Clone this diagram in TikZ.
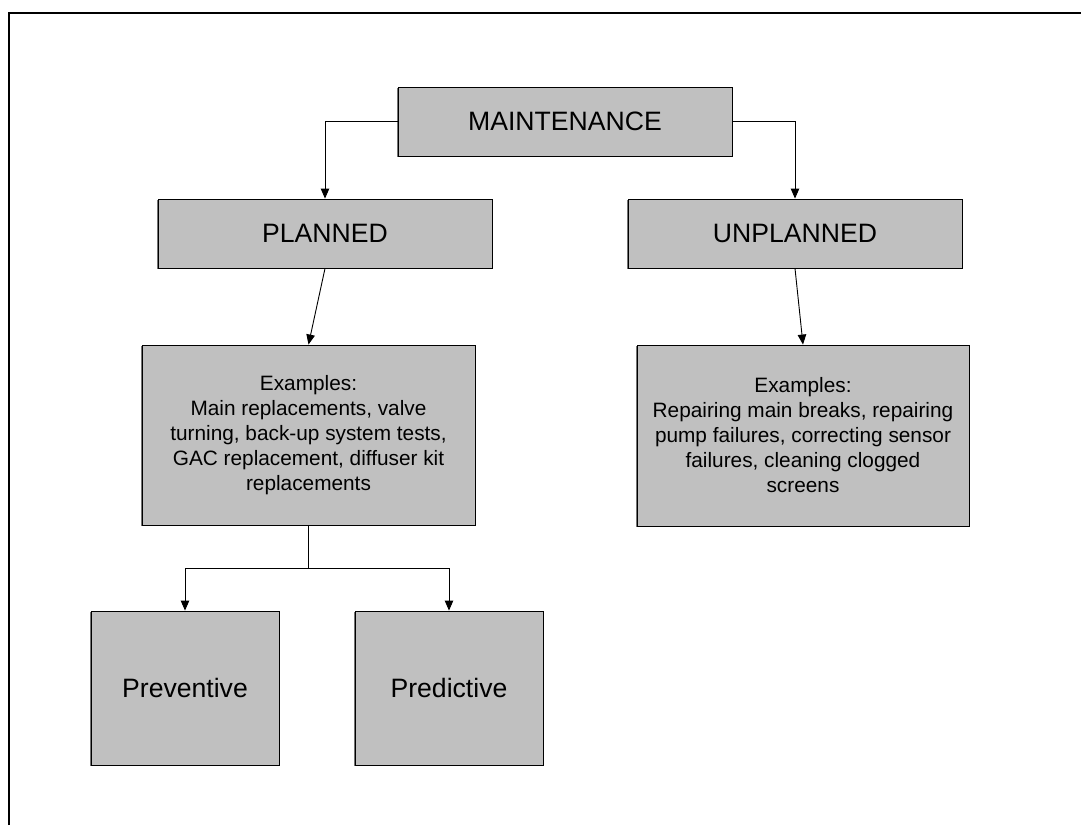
\documentclass[tikz,border=0pt]{standalone}
\usepackage{fontspec}
\setmainfont{Liberation Sans}
\usetikzlibrary{arrows.meta,shadows}
\definecolor{boxgray}{HTML}{C0C0C0}
\begin{document}
\begin{tikzpicture}[x=1pt,y=-1pt,
  box/.style={draw=black, line width=0.9pt, fill=boxgray, inner sep=0pt,
    align=center, text=black,
    drop shadow={shadow xshift=-1pt, shadow yshift=-1.4pt, fill=black!55, opacity=1}},
  bigtxt/.style={font=\fontsize{26.6pt}{30pt}\selectfont},
  smalltxt/.style={font=\fontsize{20.8pt}{25pt}\selectfont},
  conn/.style={line width=0.9pt, draw=black},
  arr/.style={conn, -{Triangle[length=10pt,width=8.5pt]}},
  frame/.style={line width=2pt, draw=black}
]
\useasboundingbox (0,0) rectangle (1081,825);
\draw[frame] (9,825) -- (9,13) -- (1081,13);

\node[box, bigtxt, minimum width=334pt, minimum height=69pt] (m) at (565,121.5) {MAINTENANCE};
\node[box, bigtxt, minimum width=334pt, minimum height=69pt] (pl) at (325,233.5) {PLANNED};
\node[box, bigtxt, minimum width=334pt, minimum height=69pt] (un) at (795,233.5) {UNPLANNED};
\node[box, smalltxt, minimum width=333pt, minimum height=180pt] (exl) at (308.5,435)
  {Examples:\\Main replacements, valve\\turning, back-up system tests,\\GAC replacement, diffuser kit\\replacements};
\node[box, smalltxt, minimum width=332pt, minimum height=181pt] (exr) at (803,435.5)
  {Examples:\\Repairing main breaks, repairing\\pump failures, correcting sensor\\failures, cleaning clogged\\screens};
\node[box, bigtxt, minimum width=188pt, minimum height=154pt] (prev) at (185,688) {Preventive};
\node[box, bigtxt, minimum width=188pt, minimum height=154pt] (pred) at (449,688) {Predictive};

\draw[arr] (m.west) -| (pl.north);
\draw[arr] (m.east) -| (un.north);
\draw[arr] (pl.south) -- (exl.north);
\draw[arr] (un.south) -- (exr.north);
\coordinate (j) at (308.5,568);
\draw[conn] (exl.south) -- (j);
\draw[arr] (j) -| (prev.north);
\draw[arr] (j) -| (pred.north);
\end{tikzpicture}
\end{document}
